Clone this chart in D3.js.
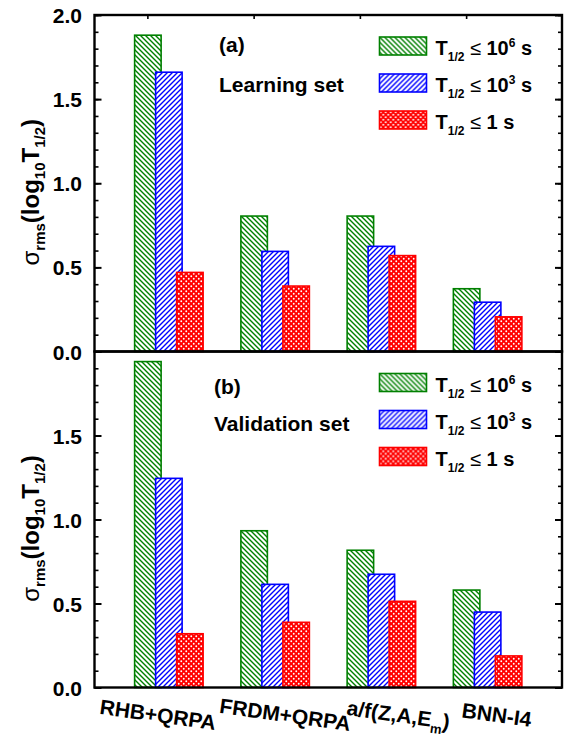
<!DOCTYPE html>
<html>
<head>
<meta charset="utf-8">
<script src="https://cdn.jsdelivr.net/npm/d3@7"></script>
<style>
  body { margin: 0; background: #fff; }
  text { font-family: Arial, "Liberation Sans", sans-serif; font-weight: bold; fill: #000; }
</style>
</head>
<body>
<svg id="chart"></svg>
<script>
var width = 573;
var height = 738;

// data
var categories = ["RHB+QRPA", "FRDM+QRPA", "a/f(Z,A,Em)", "BNN-I4"];
var learningLong  = [1.88, 0.805, 0.805, 0.373];   // T1/2 <= 10^6 s
var learningMid   = [1.66, 0.595, 0.625, 0.293];   // T1/2 <= 10^3 s
var learningShort = [0.47, 0.389, 0.57, 0.206];    // T1/2 <= 1 s
var validationLong  = [1.94, 0.933, 0.817, 0.58];
var validationMid   = [1.245, 0.614, 0.674, 0.449];
var validationShort = [0.32, 0.388, 0.513, 0.188];
var seriesExp = ["6", "3", ""];
var yMajor = [0, 0.5, 1, 1.5, 2];
var yMinor = d3.range(0, 2.01, 0.1);

var svg = d3.select("#chart")
    .attr("width", width)
    .attr("height", height);

var left = 94.5, right = 562;
var colors = ["#008000", "#0000ff", "#ff0000"];

var defs = svg.append("defs");

function hatch(id, color, up) {
  var p = defs.append("pattern").attr("id", id)
      .attr("patternUnits", "userSpaceOnUse")
      .attr("width", 5).attr("height", 5);
  p.append("rect").attr("width", 5).attr("height", 5).attr("fill", "#fff");
  var d = up ? "M0,5 L5,0 M-1,1 L1,-1 M4,6 L6,4" : "M0,0 L5,5 M-1,4 L1,6 M4,-1 L6,1";
  p.append("path").attr("d", d).attr("stroke", color).attr("stroke-width", 1.4);
}
hatch("hatch-green", colors[0], false);
hatch("hatch-blue", colors[1], true);

var dots = defs.append("pattern").attr("id", "dots-red")
    .attr("patternUnits", "userSpaceOnUse")
    .attr("width", 5).attr("height", 5);
dots.append("rect").attr("width", 5).attr("height", 5).attr("fill", colors[2]);
dots.append("circle").attr("cx", 1.25).attr("cy", 1.25).attr("r", 0.95).attr("fill", "#fff");
dots.append("circle").attr("cx", 3.75).attr("cy", 3.75).attr("r", 0.95).attr("fill", "#fff");

var fills = ["url(#hatch-green)", "url(#hatch-blue)", "url(#dots-red)"];

var x = d3.scalePoint()
    .domain(categories)
    .range([left, right])
    .padding(0.7);

var offsets = [-21, 0, 21];
var barW = 26.5;

var panels = [
  { top: 15, bottom: 351.5, series: [learningLong, learningMid, learningShort],
    tag: "(a)", name: "Learning set", tagY: 37, nameY: 77, nameX: 219, labels: yMajor },
  { top: 351.5, bottom: 687.5, series: [validationLong, validationMid, validationShort],
    tag: "(b)", name: "Validation set", tagY: 42, nameY: 79, nameX: 214, labels: [0, 0.5, 1, 1.5] }
];

panels.forEach(function(pn, pi) {
  var y = d3.scaleLinear().domain([0, 2]).range([pn.bottom, pn.top]);
  var g = svg.append("g").attr("class", "panel" + pi);

  // bars
  pn.series.forEach(function(vals, si) {
    g.selectAll(".bar" + si)
      .data(vals)
      .enter()
      .append("rect")
      .attr("class", "bar" + si)
      .attr("x", function(d, i) { return x(categories[i]) + offsets[si] - barW / 2; })
      .attr("y", function(d) { return y(d); })
      .attr("width", barW)
      .attr("height", function(d) { return y(0) - y(d); })
      .attr("fill", fills[si])
      .attr("stroke", colors[si])
      .attr("stroke-width", 1.6);
  });

  // left axis ticks (inward)
  g.append("g").attr("transform", "translate(" + left + ",0)")
    .call(d3.axisRight(y).tickValues(yMinor).tickSize(4).tickFormat(""))
    .call(function(a) { a.select(".domain").remove(); a.selectAll("line").attr("stroke-width", 1.6); });
  g.append("g").attr("transform", "translate(" + left + ",0)")
    .call(d3.axisRight(y).tickValues(yMajor).tickSize(7).tickFormat(""))
    .call(function(a) { a.select(".domain").remove(); a.selectAll("line").attr("stroke-width", 2); });

  // right axis ticks (inward)
  g.append("g").attr("transform", "translate(" + right + ",0)")
    .call(d3.axisLeft(y).tickValues(yMinor).tickSize(4).tickFormat(""))
    .call(function(a) { a.select(".domain").remove(); a.selectAll("line").attr("stroke-width", 1.6); });
  g.append("g").attr("transform", "translate(" + right + ",0)")
    .call(d3.axisLeft(y).tickValues(yMajor).tickSize(7).tickFormat(""))
    .call(function(a) { a.select(".domain").remove(); a.selectAll("line").attr("stroke-width", 2); });

  // tick labels
  g.append("g").attr("transform", "translate(" + left + ",0)")
    .call(d3.axisLeft(y).tickValues(pn.labels).tickSize(0).tickPadding(12.5).tickFormat(d3.format(".1f")))
    .call(function(a) {
      a.select(".domain").remove();
      a.selectAll("text").style("font-size", "21px").style("font-weight", "bold")
        .style("font-family", "Arial, 'Liberation Sans', sans-serif").attr("dy", "0.36em");
    });

  // frame
  g.append("rect")
    .attr("x", left).attr("y", pn.top)
    .attr("width", right - left).attr("height", pn.bottom - pn.top)
    .attr("fill", "none").attr("stroke", "#000").attr("stroke-width", 2.4);

  // panel tag and name
  g.append("text").attr("x", pn.nameX).attr("y", pn.top + pn.tagY)
    .style("font-size", "21px").text(pn.tag);
  g.append("text").attr("x", pn.nameX).attr("y", pn.top + pn.nameY)
    .style("font-size", "21px").text(pn.name);

  // legend
  var leg = g.append("g").attr("transform", "translate(379.5," + (pn.top + 22) + ")");
  seriesExp.forEach(function(e, i) {
    var row = leg.append("g").attr("transform", "translate(0," + (i * 37) + ")");
    row.append("rect").attr("width", 47).attr("height", 18)
      .attr("fill", fills[i]).attr("stroke", colors[i]).attr("stroke-width", 1.6);
    var t = row.append("text").attr("x", 56).attr("y", 18).style("font-size", "20px");
    t.append("tspan").text("T");
    t.append("tspan").attr("dy", 6).style("font-size", "12px").text("1/2");
    t.append("tspan").attr("dy", -6).style("font-weight", "normal").text(" \u2264 ");
    if (e) {
      t.append("tspan").text("10");
      t.append("tspan").attr("dy", -8).style("font-size", "12px").text(e);
      t.append("tspan").attr("dy", 8).text(" s");
    } else {
      t.append("tspan").text("1 s");
    }
  });

  // y label
  var yl = svg.append("text")
    .attr("transform", "translate(39," + ((pn.top + pn.bottom) / 2 + 9) + ") rotate(-90)")
    .attr("text-anchor", "middle")
    .style("font-size", "24px");
  yl.append("tspan").style("font-weight", "normal").text("\u03c3");
  yl.append("tspan").attr("dy", 6).style("font-size", "15px").text("rms");
  yl.append("tspan").attr("dy", -6).text("(log");
  yl.append("tspan").attr("dy", 6).style("font-size", "15px").text("10");
  yl.append("tspan").attr("dy", -6).text("T");
  yl.append("tspan").attr("dy", 6).style("font-size", "15px").text("1/2");
  yl.append("tspan").attr("dy", -6).text(")");
});

// small x ticks on the top edge
svg.append("g").selectAll("line")
  .data(categories)
  .enter()
  .append("line")
  .attr("x1", function(d) { return x(d) - 21; })
  .attr("x2", function(d) { return x(d) - 21; })
  .attr("y1", 15).attr("y2", 19)
  .attr("stroke", "#000").attr("stroke-width", 1.6);

// category labels under the lower panel
var labelShift = [-12, 9, 16, 8];
var xl = svg.append("g").selectAll("text")
  .data(categories)
  .enter()
  .append("text")
  .attr("text-anchor", "middle")
  .attr("transform", function(d, i) {
    return "translate(" + (x(d) + labelShift[i]) + ",722) rotate(8)";
  })
  .style("font-size", "21px");

xl.each(function(d) {
  var t = d3.select(this);
  if (d === "a/f(Z,A,Em)") {
    t.append("tspan").text("a/f(Z,A,E");
    t.append("tspan").attr("dy", 6).style("font-size", "13px").text("m");
    t.append("tspan").attr("dy", -6).text(")");
  } else {
    t.text(d);
  }
});
</script>
</body>
</html>
